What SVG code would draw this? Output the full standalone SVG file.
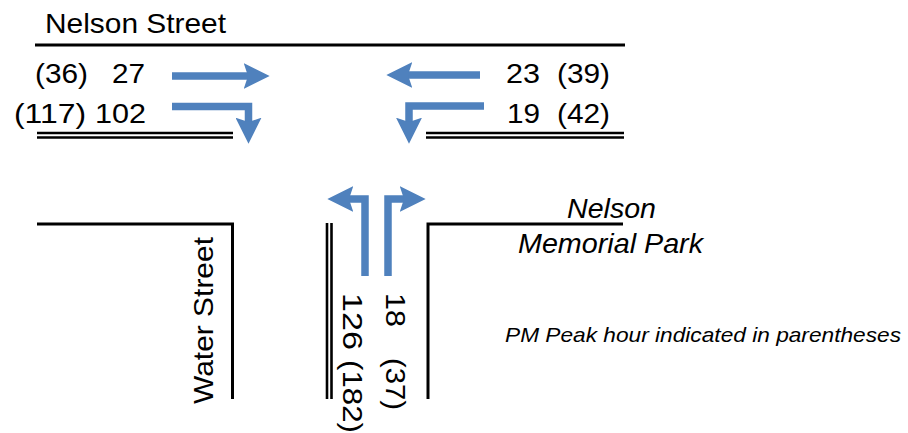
<svg xmlns="http://www.w3.org/2000/svg" width="908" height="433" viewBox="0 0 908 433">
<style>
  .road { stroke: #000; stroke-width: 3; fill: none; stroke-linecap: butt; }
  .dbl { stroke: #000; stroke-width: 2.6; fill: none; }
  .arrow { stroke: #4F81BD; stroke-width: 7.5; fill: none; stroke-linejoin: miter; marker-end: url(#head); }
  .lbl { font-family: "Liberation Sans", Arial, sans-serif; font-size: 28px; fill: #000; }
  .ital { font-family: "Liberation Sans", Arial, sans-serif; font-style: italic; fill: #000; }
</style>
<defs>
  <marker id="head" markerUnits="userSpaceOnUse" markerWidth="26" markerHeight="26" viewBox="0 0 24 24" refX="16" refY="12" orient="auto">
    <path d="M0,0 L24,12 L0,24 L4,12 Z" fill="#4F81BD"/>
  </marker>
</defs>
<rect width="908" height="433" fill="#fff"/>

<g id="roads">
  <line class="road" x1="35" y1="45" x2="625" y2="45"/>
  <line class="dbl" x1="37" y1="133" x2="233" y2="133"/>
  <line class="dbl" x1="37" y1="137.5" x2="233" y2="137.5"/>
  <line class="dbl" x1="426" y1="133" x2="624" y2="133"/>
  <line class="dbl" x1="426" y1="137.5" x2="624" y2="137.5"/>
  <polyline class="road" points="37,224 232.5,224 232.5,399"/>
  <line class="dbl" x1="327" y1="223" x2="327" y2="399"/>
  <line class="dbl" x1="331.5" y1="223" x2="331.5" y2="399"/>
  <polyline class="road" points="623,224 428,224 428,399"/>
</g>

<g id="connectors">
  <path class="arrow" d="M172,76 H261"/>
  <path class="arrow" d="M172,106.5 H248.5 V135"/>
  <path class="arrow" d="M480,75 H395"/>
  <path class="arrow" d="M484,106 H409 V135"/>
  <path class="arrow" d="M365,276 V199 H336"/>
  <path class="arrow" d="M388,276 V199 H417"/>
</g>

<g id="street-names">
  <text class="lbl" font-size="27" x="45" y="33" textLength="181" lengthAdjust="spacingAndGlyphs">Nelson Street</text>
  <text class="lbl" transform="translate(213,404) rotate(-90)" x="0" y="0" textLength="167" lengthAdjust="spacingAndGlyphs">Water Street</text>
  <text class="ital" font-size="28" x="567" y="218" textLength="89" lengthAdjust="spacingAndGlyphs">Nelson</text>
  <text class="ital" font-size="28" x="518" y="253" textLength="185" lengthAdjust="spacingAndGlyphs">Memorial Park</text>
  <text class="ital" font-size="21" x="505" y="342" textLength="396" lengthAdjust="spacingAndGlyphs">PM Peak hour indicated in parentheses</text>
</g>

<g id="volumes-west">
  <text class="lbl" x="35" y="83" textLength="53" lengthAdjust="spacingAndGlyphs">(36)</text>
  <text class="lbl" x="112" y="83" textLength="33" lengthAdjust="spacingAndGlyphs">27</text>
  <text class="lbl" x="14" y="123" textLength="72" lengthAdjust="spacingAndGlyphs">(117)</text>
  <text class="lbl" x="95" y="123" textLength="51" lengthAdjust="spacingAndGlyphs">102</text>
</g>

<g id="volumes-east">
  <text class="lbl" x="506" y="83" textLength="34" lengthAdjust="spacingAndGlyphs">23</text>
  <text class="lbl" x="557" y="83" textLength="53" lengthAdjust="spacingAndGlyphs">(39)</text>
  <text class="lbl" x="507" y="123" textLength="33" lengthAdjust="spacingAndGlyphs">19</text>
  <text class="lbl" x="557" y="123" textLength="53" lengthAdjust="spacingAndGlyphs">(42)</text>
</g>

<g id="volumes-south">
  <text class="lbl" transform="translate(386,293) rotate(90)" x="0" y="0" textLength="34" lengthAdjust="spacingAndGlyphs">18</text>
  <text class="lbl" transform="translate(386,358) rotate(90)" x="0" y="0" textLength="52" lengthAdjust="spacingAndGlyphs">(37)</text>
  <text class="lbl" transform="translate(343,293) rotate(90)" x="0" y="0" textLength="57" lengthAdjust="spacingAndGlyphs">126</text>
  <text class="lbl" transform="translate(343,360) rotate(90)" x="0" y="0" textLength="73" lengthAdjust="spacingAndGlyphs">(182)</text>
</g>
</svg>
